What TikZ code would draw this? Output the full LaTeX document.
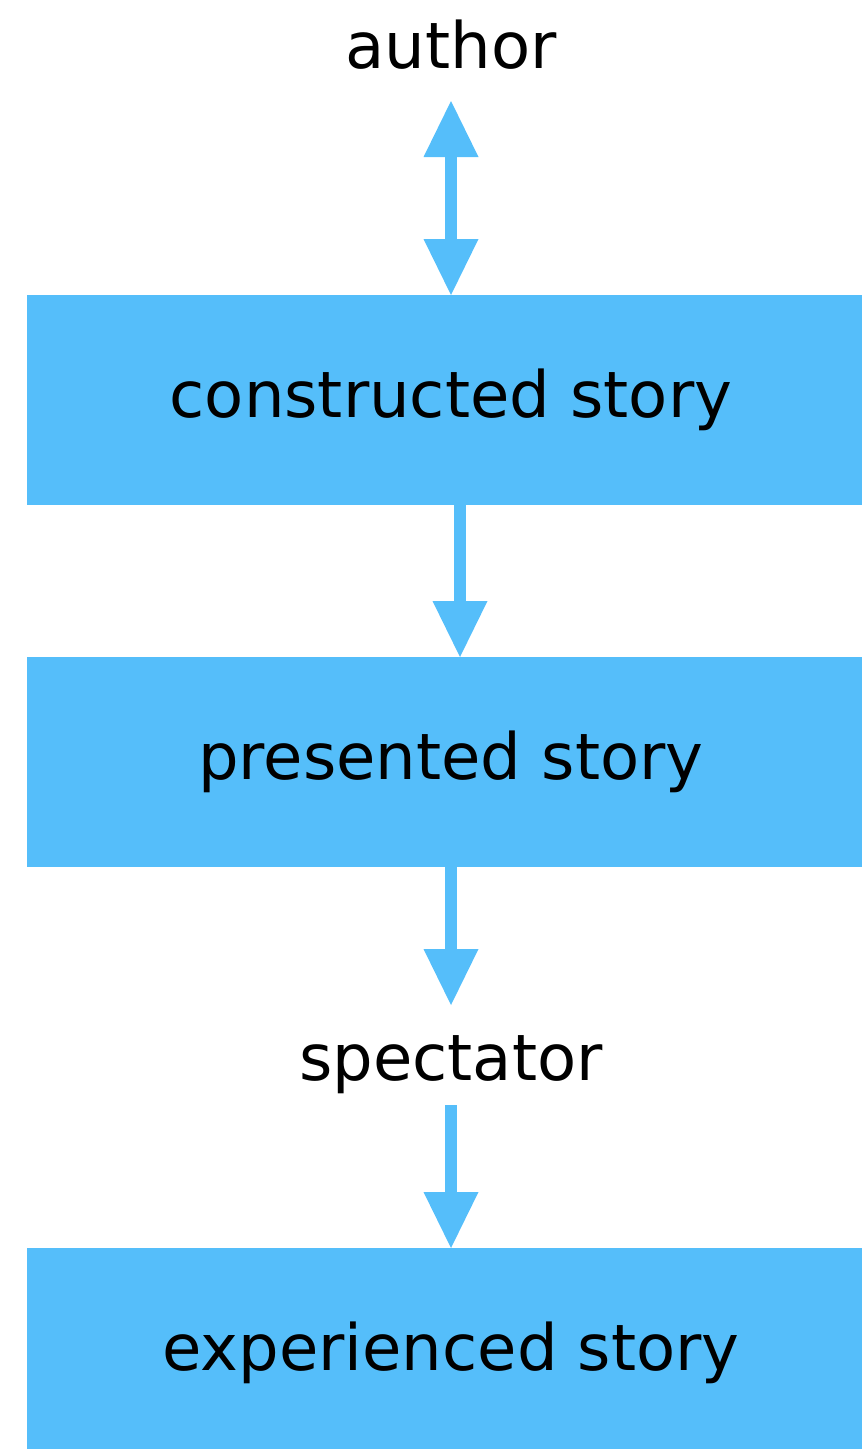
\documentclass[tikz,border=0pt]{standalone}
\usepackage{fontspec}
\setmainfont{DejaVu Sans}
\usetikzlibrary{arrows.meta}
\definecolor{skyblue}{RGB}{85,190,250}
\begin{document}
\begin{tikzpicture}[x=1pt,y=-1pt,
  storybox/.style={fill=skyblue, minimum width=848pt, minimum height=210pt,
    inner sep=0pt, font=\fontsize{64}{76}\selectfont, text=black},
  caption/.style={font=\fontsize{64}{76}\selectfont, inner sep=0pt, text=black},
  flow/.style={draw=skyblue, line width=12pt, -{Triangle[width=55pt,length=56pt,line width=0pt]}},
  twoway/.style={draw=skyblue, line width=12pt,
    {Triangle[width=55pt,length=56pt,line width=0pt]}-{Triangle[width=55pt,length=56pt,line width=0pt]}},
]
\useasboundingbox (0,0) rectangle (862,1449);
\clip (0,0) rectangle (862,1449);

% the three story stages
\node[storybox, anchor=north] (constructed) at (451,295) {constructed story};
\node[storybox, anchor=north] (presented)   at (451,657) {presented story};
\node[storybox, anchor=north] (experienced) at (451,1248) {experienced story};

% the people at either end
\node[caption, anchor=base] (author)    at (451,68)   {author};
\node[caption, anchor=base] (spectator) at (451,1080) {spectator};

% free ends of the arrows next to the plain labels
\coordinate (authorend) at (451,101);
\coordinate (spectatorin) at (451,1005);
\coordinate (spectatorout) at (451,1105);

% connectors
\draw[twoway] (authorend) -- (constructed.north);
\draw[flow] ([xshift=9pt]constructed.south) -- ([xshift=9pt]presented.north);
\draw[flow] (presented.south) -- (spectatorin);
\draw[flow] (spectatorout) -- (experienced.north);
\end{tikzpicture}
\end{document}
